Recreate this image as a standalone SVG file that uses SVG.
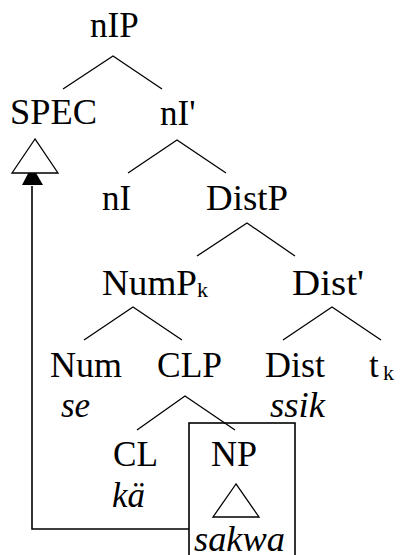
<svg xmlns="http://www.w3.org/2000/svg" width="405" height="555" viewBox="0 0 405 555">
<style>
text{font-family:"Liberation Serif","Times New Roman",serif;font-size:35px;fill:#000}
.it{font-style:italic}
.sub{font-size:22px}
.e{stroke:#000;stroke-width:1.3;fill:none}
.tri{stroke:#000;stroke-width:1.3;fill:#fff}
.box{stroke:#000;stroke-width:1.6;fill:none}
</style>
<rect width="405" height="555" fill="#fff"/>
<g id="connectors">
<polyline class="e" points="63,89 113,56 162,89"/>
<polyline class="e" points="128,173 177,140 226,173"/>
<polyline class="e" points="197,256 247,223 295,256"/>
<polyline class="e" points="84,340 133,307 182,340"/>
<polyline class="e" points="283,340 332,307 381,340"/>
<polyline class="e" points="137,430 185,396 235,430"/>
<path class="box" d="M189,529 H32 V186"/>
<path d="M32,166 L43,185 L22,185 Z" fill="#000"/>
</g>
<g id="nIP"><text x="90" y="37">nIP</text></g>
<g id="SPEC"><text x="10" y="124" textLength="87" lengthAdjust="spacingAndGlyphs">SPEC</text>
<polygon class="tri" points="35,139 12,173 58,173"/></g>
<g id="nIbar"><text x="160" y="125">nI'</text></g>
<g id="nI"><text x="102" y="210">nI</text></g>
<g id="DistP"><text x="206" y="210" textLength="82" lengthAdjust="spacingAndGlyphs">DistP</text></g>
<g id="NumPk"><text x="102" y="295" textLength="95" lengthAdjust="spacingAndGlyphs">NumP</text><text class="sub" x="197" y="297">k</text></g>
<g id="Distbar"><text x="292" y="295" textLength="72" lengthAdjust="spacingAndGlyphs">Dist'</text></g>
<g id="Num"><text x="50" y="377" textLength="72" lengthAdjust="spacingAndGlyphs">Num</text>
<text class="it" x="61" y="417">se</text></g>
<g id="CLP"><text x="157" y="377" textLength="65" lengthAdjust="spacingAndGlyphs">CLP</text></g>
<g id="Dist"><text x="265" y="377" textLength="60" lengthAdjust="spacingAndGlyphs">Dist</text>
<text class="it" x="270" y="417" textLength="55" lengthAdjust="spacingAndGlyphs">ssik</text></g>
<g id="tk"><text x="369" y="377">t</text><text class="sub" x="383" y="380">k</text></g>
<g id="CL"><text x="113" y="466" textLength="45" lengthAdjust="spacingAndGlyphs">CL</text>
<text class="it" x="112" y="507">kä</text></g>
<g id="NP"><rect class="box" x="189" y="423" width="106" height="140"/>
<text x="211" y="466" textLength="46" lengthAdjust="spacingAndGlyphs">NP</text>
<polygon class="tri" points="236,484 213,517 259,517"/>
<text class="it" x="194" y="551" textLength="91" lengthAdjust="spacingAndGlyphs">sakwa</text></g>
</svg>
